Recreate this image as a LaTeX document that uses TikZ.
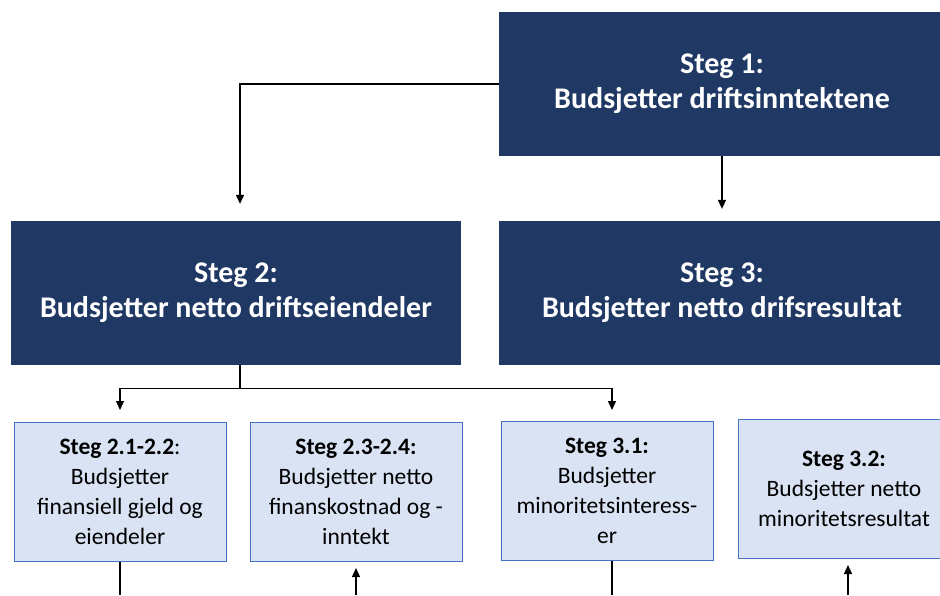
\documentclass[tikz,border=0pt]{standalone}
\usepackage{fontspec}
\setmainfont{Carlito}
\usetikzlibrary{arrows.meta,positioning}
\definecolor{navy}{HTML}{203864}
\definecolor{paleblue}{HTML}{DAE3F3}
\definecolor{edgeblue}{HTML}{4472C4}

\tikzset{
  bigstep/.style={draw=navy, fill=navy, text=white, align=center, inner sep=0pt,
    font=\bfseries\fontsize{30}{35}\selectfont,
    minimum width=444pt, minimum height=143pt},
  substep/.style={draw=edgeblue, line width=1pt, fill=paleblue, align=center, inner sep=0pt,
    font=\fontsize{23.5}{30}\selectfont,
    minimum width=212pt, minimum height=139pt}
}

\begin{document}
\begin{tikzpicture}[x=1pt,y=-1pt,on grid,line width=1.3pt,
    >={Triangle[length=9pt,width=8pt]}]
  \useasboundingbox (0,0) rectangle (940,595);
  \coordinate (bottom) at (0,595);
  \path
  node[bigstep] (s1) at (722,84) {Steg 1:\\Budsjetter driftsinntektene}
  node[bigstep,below=209pt of s1] (s3) {Steg 3:\\Budsjetter netto drifsresultat}
  node[bigstep,left=486pt of s3, minimum width=448pt] (s2) {Steg 2:\\Budsjetter netto driftseiendeler}
  node[substep] (s21) at (120,492)
  {\textbf{Steg 2.1-2.2}:\\Budsjetter\\finansiell gjeld og\\eiendeler}
  node[substep,right=236pt of s21] (s23)
  {\textbf{Steg 2.3-2.4:}\\Budsjetter netto\\finanskostnad og -\\inntekt}
  node[substep,right=251pt of s23, yshift=1pt] (s31)
  {\textbf{Steg 3.1:}\\Budsjetter\\minoritetsinteress-\\er}
  node[substep,right=237pt of s31, yshift=2pt] (s32)
  {\textbf{Steg 3.2:}\\Budsjetter netto\\minoritetsresultat}
  ;
  % arrows between the steps
  \coordinate (split) at ([xshift=4pt,yshift=-23pt]s2.south);
  \draw[->] (s1.west) -| ([xshift=4pt,yshift=17pt]s2.north);
  \draw[->] (s1.south) -- ([yshift=12pt]s3.north);
  \draw ([xshift=4pt]s2.south) -- (split);
  \draw[->] (split) -| ([yshift=12pt]s21.north);
  \draw[->] (split) -| ([xshift=5pt,yshift=11pt]s31.north);

  \draw (s21.south) -- (s21.south |- bottom);
  \draw[->] (s23.south |- bottom) -- ([yshift=-6pt]s23.south);
  \draw ([xshift=5pt]s31.south) -- ([xshift=5pt]s31.south |- bottom);
  \draw[->] ([xshift=4pt]s32.south |- bottom) -- ([xshift=4pt,yshift=-6pt]s32.south);
\end{tikzpicture}
\end{document}
